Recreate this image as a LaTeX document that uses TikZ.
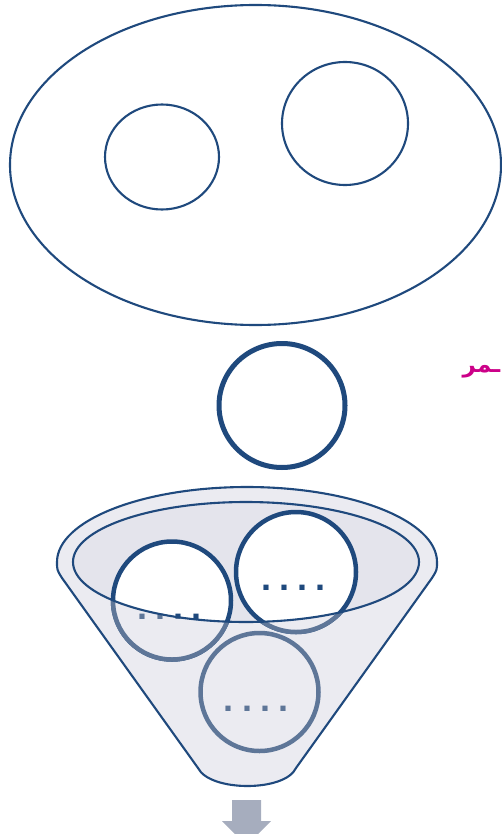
\documentclass[tikz,border=0pt]{standalone}
\usepackage{fontspec}
\newfontfamily\arabicfont[Script=Arabic]{DejaVu Sans}
\newfontfamily\dotfont{Liberation Sans}
\TeXXeTstate=1
\definecolor{dkblue}{RGB}{31,73,125}
\definecolor{ltblue}{RGB}{94,118,152}
\definecolor{funfill}{RGB}{235,235,241}
\definecolor{innerfill}{RGB}{228,228,236}
\definecolor{arrowgrey}{RGB}{166,173,190}
\definecolor{magentatxt}{RGB}{204,0,136}
\tikzset{
  thinline/.style={draw=dkblue,line width=2.1pt},
  ring/.style={line width=4.5pt},
  dotrow/.style={inner sep=0pt,anchor=base,font=\dotfont\bfseries\fontsize{36}{36}\selectfont},
}
\newcommand{\fourdots}{.\hspace{8pt}.\hspace{8pt}.\hspace{8pt}.}
\begin{document}
\begin{tikzpicture}[x=1pt,y=-1pt]
\useasboundingbox (0,0) rectangle (501,834);
% top big ellipse with two circles
\draw[thinline] (255.5,165) circle[x radius=245.5pt,y radius=160pt];
\draw[thinline] (162,157) circle[x radius=57pt,y radius=52.5pt];
\draw[thinline] (345,123.5) circle[x radius=63pt,y radius=61.5pt];
% middle thick circle
\draw[draw=dkblue,line width=5pt] (282,405.5) circle[x radius=63pt,y radius=62pt];
% arabic text, as far as it is printed at the right edge
\node[anchor=base east,inner sep=0pt,text=magentatxt,font=\arabicfont\bfseries\fontsize{23}{23}\selectfont] (ar) at (500.5,372) {\beginR ـمر\endR};
% funnel
\draw[thinline,fill=funfill] (57,562) arc[start angle=180,end angle=0,x radius=190pt,y radius=75pt]
  .. controls (437,570) .. (432,578) -- (296,768)
  .. controls (285,792) and (210,792) .. (198,768) -- (62,578)
  .. controls (57,570) .. (57,562) -- cycle;
\fill[innerfill] (246,562) circle[x radius=173pt,y radius=60pt];
% circles inside the funnel
\draw[ring,draw=dkblue,fill=white] (172,600.5) circle[radius=59pt];
\draw[ring,draw=dkblue,fill=white] (296,572) circle[radius=60pt];
\node[dotrow,text=dkblue] (da) at (169.5,619.5) {\fourdots};
\node[dotrow,text=dkblue] (db) at (293,590.5) {\fourdots};
\begin{scope}
  \clip (0,562) -- (73,562) arc[start angle=180,end angle=360,x radius=173pt,y radius=60pt] -- (501,562) -- (501,834) -- (0,834) -- cycle;
  \draw[ring,draw=ltblue,fill=funfill] (172,600.5) circle[radius=59pt];
  \draw[ring,draw=ltblue,fill=funfill] (296,572) circle[radius=60pt];
  \node[dotrow,text=ltblue] at (169.5,619.5) {\fourdots};
\end{scope}
\draw[ring,draw=ltblue,fill=funfill] (259.5,692) circle[radius=59pt];
\node[dotrow,text=ltblue] (dc) at (256,711.5) {\fourdots};
\draw[thinline] (246,562) circle[x radius=173pt,y radius=60pt];
% arrow below
\fill[arrowgrey] (232,800) -- (261,800) -- (261,821) -- (271,821) -- (246.5,845.5) -- (222,821) -- (232,821) -- cycle;
\end{tikzpicture}
\end{document}
